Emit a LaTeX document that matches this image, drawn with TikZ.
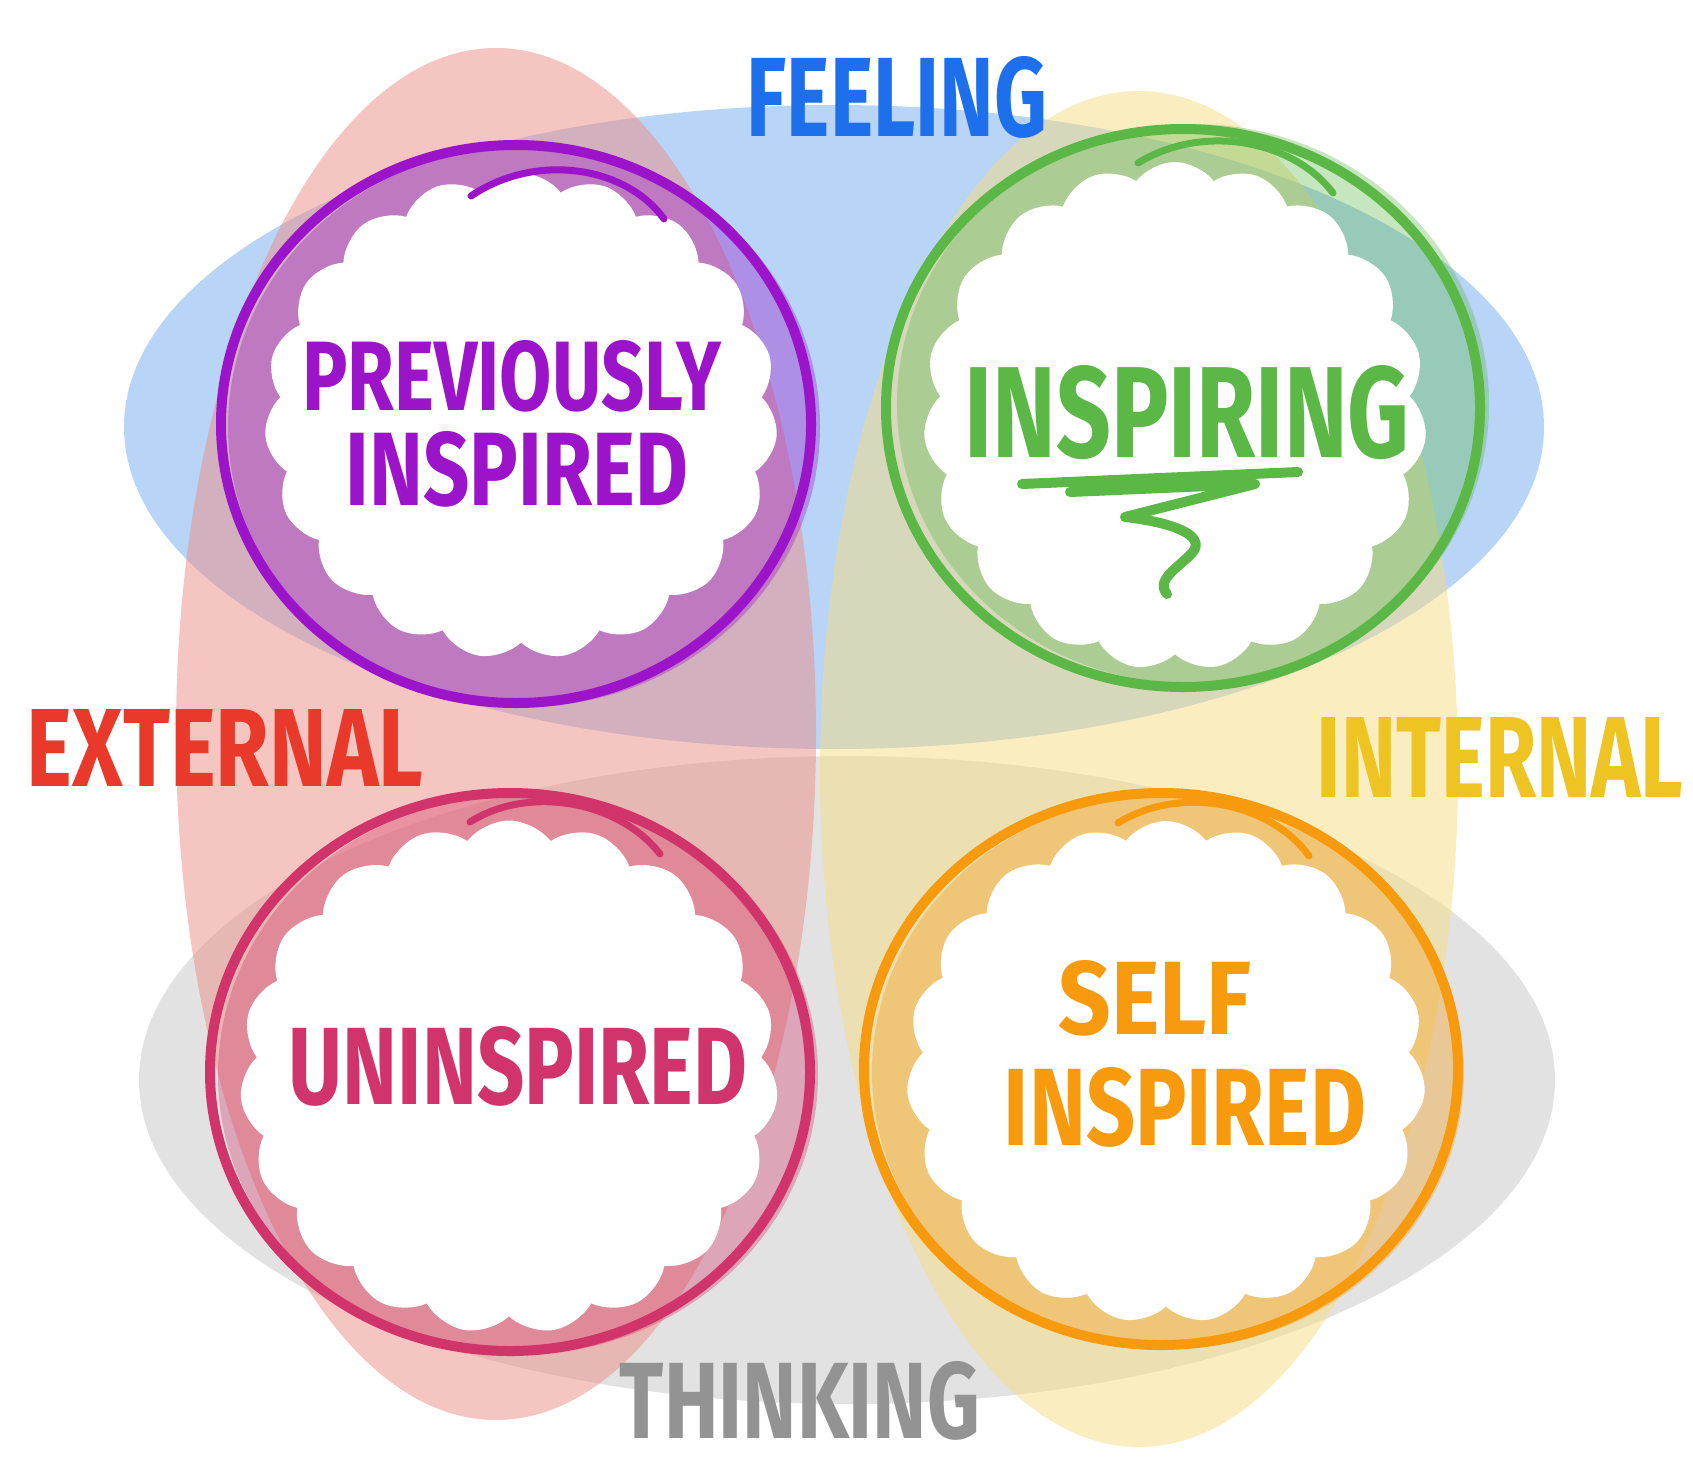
\documentclass[tikz,border=0pt]{standalone}
\usepackage{fontspec}
\usepackage{graphicx}
\newfontfamily\hand{Fira Sans}
\usetikzlibrary{shapes.symbols}
\definecolor{bgBlue}{RGB}{115,171,239}
\definecolor{bgRed}{RGB}{237,141,133}
\definecolor{bgYellow}{RGB}{247,221,129}
\definecolor{bgGrey}{RGB}{199,199,199}
\definecolor{cPurple}{RGB}{155,20,201}
\definecolor{cGreen}{RGB}{91,184,70}
\definecolor{cPink}{RGB}{209,52,106}
\definecolor{cOrange}{RGB}{247,154,13}
\definecolor{tBlue}{RGB}{30,111,236}
\definecolor{tRed}{RGB}{232,57,42}
\definecolor{tYellow}{RGB}{238,196,34}
\definecolor{tGrey}{RGB}{147,147,147}
\tikzset{
  bgshape/.style={opacity=0.5},
  band/.style={opacity=0.35},
  puff/.style={cloud, cloud puffs=19, cloud puff arc=105, aspect=1, fill=white, draw=none, inner sep=0pt},
  ring/.style={line width=10pt},
  loopstroke/.style={line width=7pt, line cap=round},
  lbl/.style={inner sep=0pt, font=\hand\bfseries},
}
\begin{document}
\begin{tikzpicture}[x=1pt,y=-1pt]
\fill[white] (0,0) rectangle (1693,1467);
\useasboundingbox (0,0) rectangle (1693,1467);

% background ellipses
\fill[bgBlue, bgshape] (834,427) ellipse [x radius=710, y radius=322];
\fill[bgGrey, bgshape] (847,1080) ellipse [x radius=708, y radius=324];
\fill[bgRed, bgshape] (496,734) ellipse [x radius=320, y radius=686];
\fill[bgYellow, bgshape] (1139,769) ellipse [x radius=319, y radius=678];

% centres of the four rings
\coordinate (P) at (516,424);
\coordinate (G) at (1183,408);
\coordinate (K) at (510,1072);
\coordinate (O) at (1161,1069);

% purple
\fill[cPurple, band] ([shift={(8,3)}]P) ellipse [x radius=296, y radius=280];
\node[puff, minimum width=513pt, minimum height=486pt] (cloudP) at (521,416) {};
\draw[cPurple, ring] (P) ellipse [x radius=295, y radius=279];
\draw[cPurple, loopstroke] ([shift={(-45,-228)}]P) .. controls ([shift={(20,-272)}]P) and ([shift={(110,-258)}]P) .. ([shift={(148,-205)}]P);
\node[lbl, text=cPurple] (prev) at (512,376) {\resizebox{419pt}{70pt}{PREVIOUSLY}};
\node[lbl, text=cPurple] (insp1) at (517,469) {\resizebox{342pt}{74pt}{INSPIRED}};

% green
\fill[cGreen, band] ([shift={(10,-4)}]G) ellipse [x radius=296, y radius=280];
\node[puff, minimum width=503pt, minimum height=508pt] (cloudG) at (1175,416) {};
\draw[cGreen, ring] (G) ellipse [x radius=297, y radius=279];
\draw[cGreen, loopstroke] ([shift={(-45,-245)}]G) .. controls ([shift={(20,-285)}]G) and ([shift={(110,-268)}]G) .. ([shift={(150,-215)}]G);
\node[lbl, text=cGreen] (inspiring) at (1187,413) {\resizebox{445pt}{92pt}{INSPIRING}};
\draw[cGreen, line width=10pt, line cap=round, line join=round]
  (1022,484) -- (1298,472)
  (1070,492) -- (1255,484) -- (1125,517)
  .. controls (1170,522) and (1208,535) .. (1192,553)
  .. controls (1178,568) and (1155,580) .. (1167,594);

% pink
\fill[cPink, band] ([shift={(8,3)}]K) ellipse [x radius=300, y radius=280];
\node[puff, minimum width=538pt, minimum height=513pt] (cloudK) at (509,1077) {};
\draw[cPink, ring] (K) ellipse [x radius=300, y radius=279];
\draw[cPink, loopstroke] ([shift={(-40,-250)}]K) .. controls ([shift={(20,-288)}]K) and ([shift={(110,-270)}]K) .. ([shift={(150,-218)}]K);
\node[lbl, text=cPink] (unins) at (518,1066) {\resizebox{458pt}{78pt}{UNINSPIRED}};

% orange
\fill[cOrange, band] ([shift={(7,3)}]O) ellipse [x radius=296, y radius=277];
\node[puff, minimum width=519pt, minimum height=502pt] (cloudO) at (1166,1072) {};
\draw[cOrange, ring] (O) ellipse [x radius=297, y radius=276];
\draw[cOrange, loopstroke] ([shift={(-43,-246)}]O) .. controls ([shift={(20,-285)}]O) and ([shift={(110,-266)}]O) .. ([shift={(148,-213)}]O);
\node[lbl, text=cOrange] (self) at (1155,998) {\resizebox{193pt}{74pt}{SELF}};
\node[lbl, text=cOrange] (insp2) at (1185,1107) {\resizebox{362pt}{78pt}{INSPIRED}};

% axis labels
\node[lbl, text=tBlue] (feeling) at (897,97) {\resizebox{300pt}{80pt}{FEELING}};
\node[lbl, text=tRed] (external) at (225,748) {\resizebox{396pt}{77pt}{EXTERNAL}};
\node[lbl, text=tYellow] (internal) at (1500,757) {\resizebox{366pt}{80pt}{INTERNAL}};
\node[lbl, text=tGrey] (thinking) at (800,1401) {\resizebox{360pt}{77pt}{THINKING}};
\end{tikzpicture}
\end{document}
